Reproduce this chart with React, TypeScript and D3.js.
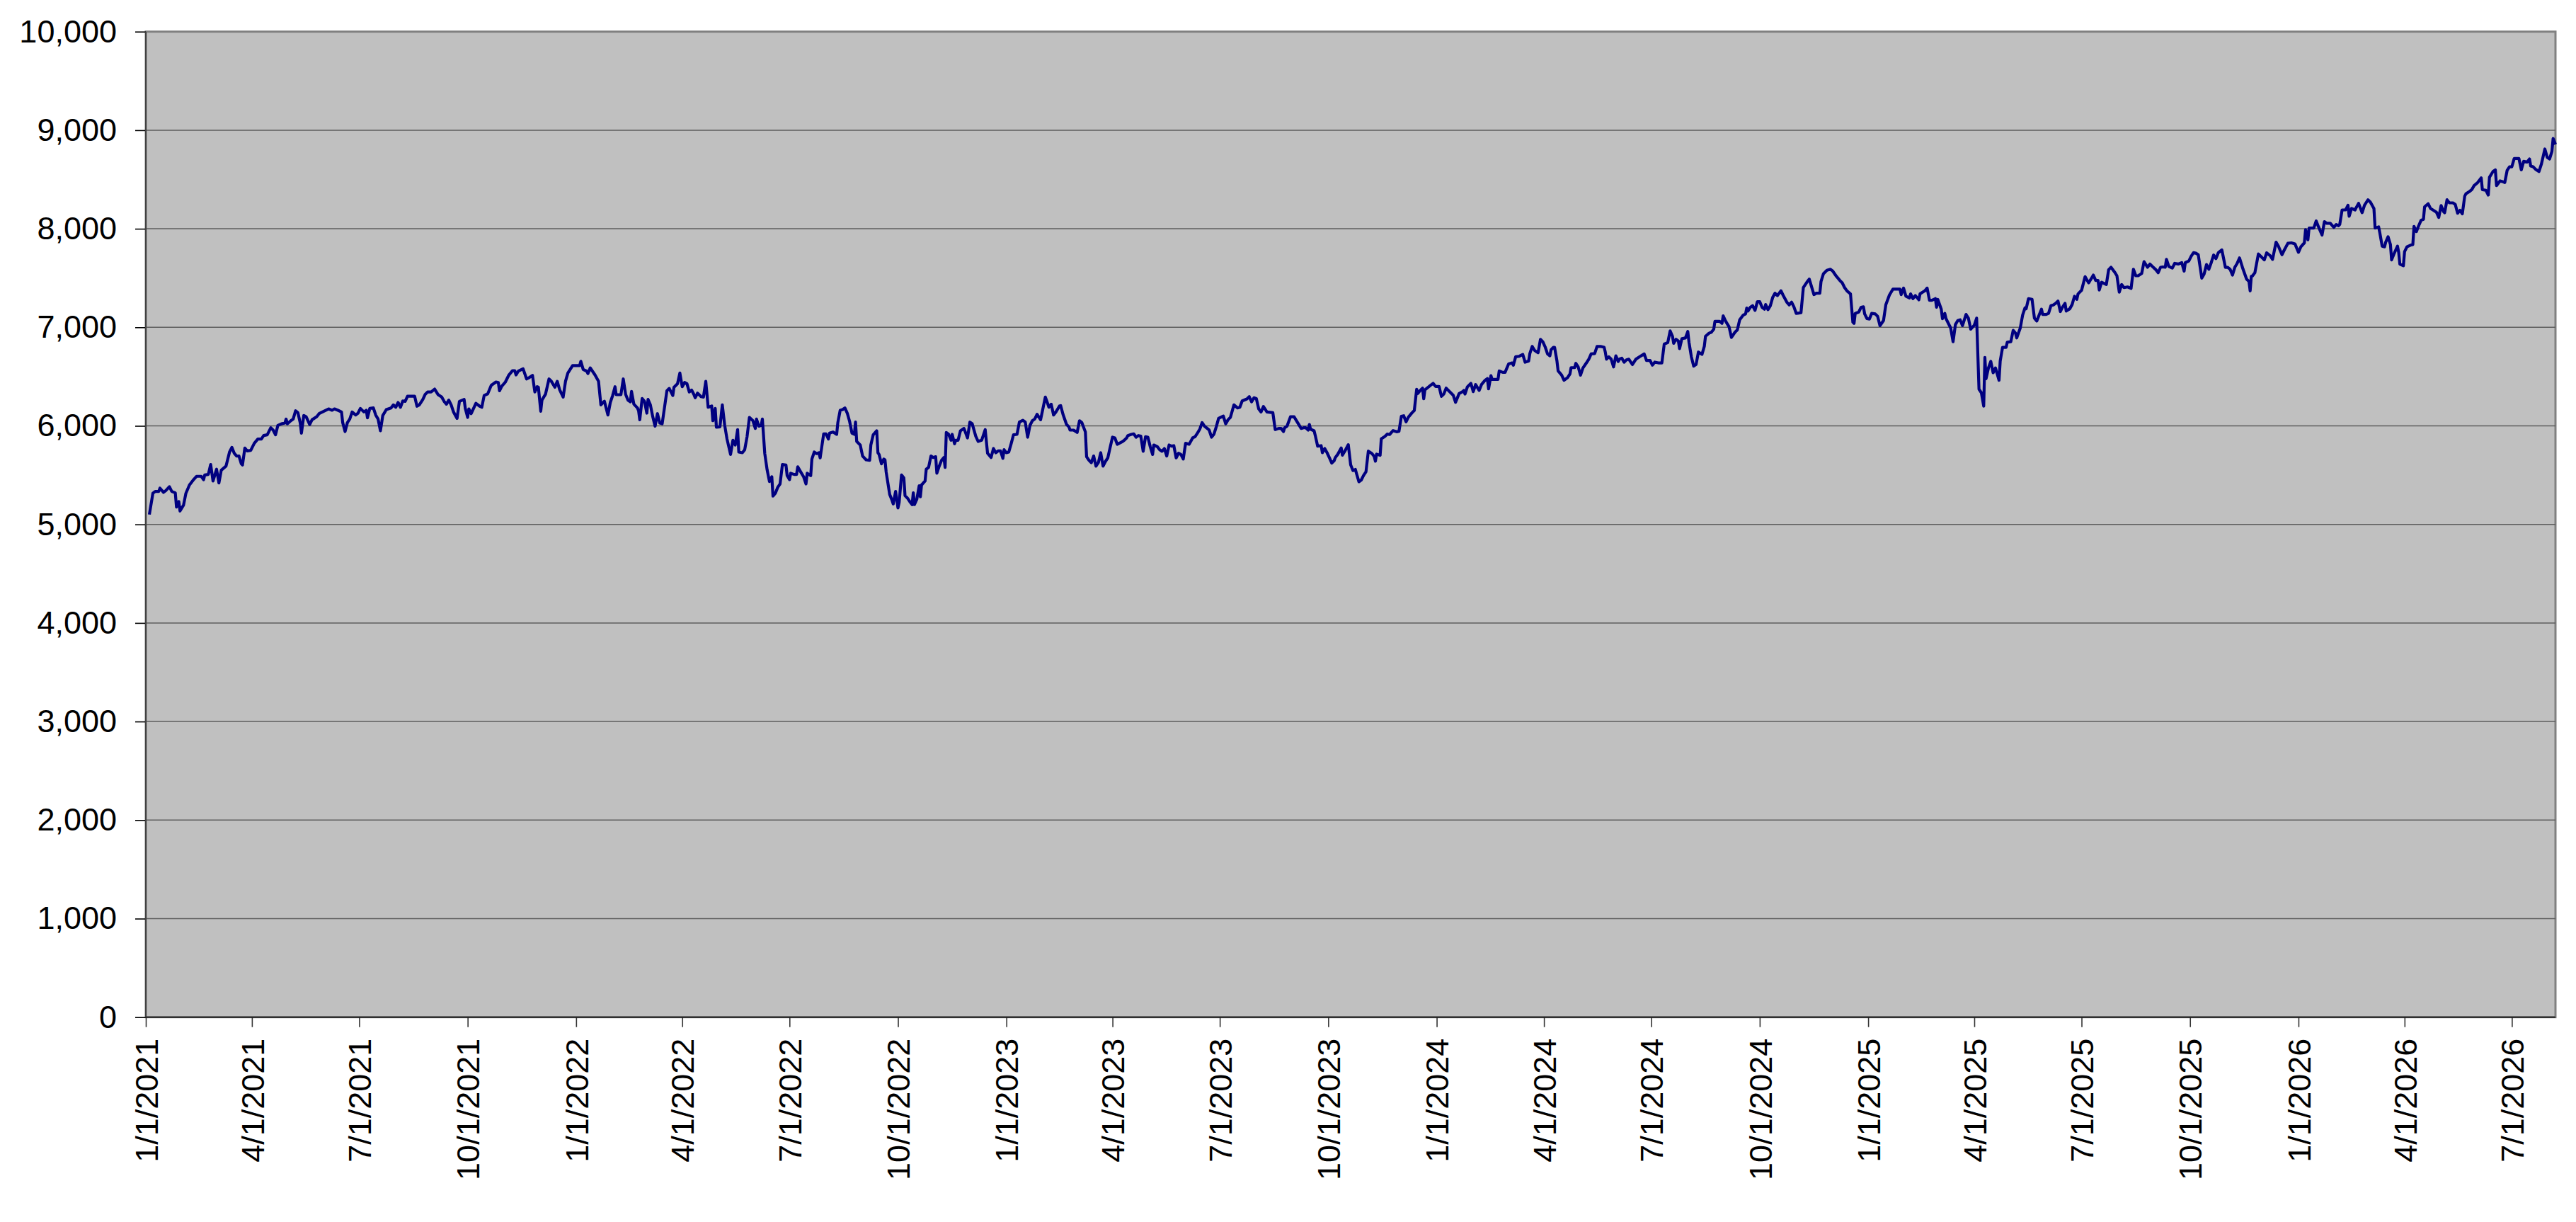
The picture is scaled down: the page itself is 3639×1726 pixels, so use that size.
import React, { useRef, useEffect } from "react";
import * as d3 from "d3";

// day offsets are counted from 1/1/2021, values are index levels
const startDate = new Date(2021, 0, 1);
const endDate = new Date(2026, 7, 7);

const from2021Jan: [number, number][] = [
  [3,5100],[6,5316],[8,5335],[11,5335],[12,5368],[15,5325],[17,5344],[20,5383],[22,5335],[25,5320],[26,5177],[28,5232],[29,5136],[32,5196],[34,5316],[37,5400],[40,5447],[43,5488],[47,5488],[49,5454],[50,5502],[53,5507],[55,5608],[57,5440],[60,5560],[62,5421],[64,5550],[68,5591],[71,5734],[73,5782],[75,5722],[77,5694],[79,5694],[81,5615],[82,5603],[84,5775],[86,5746],[89,5751],[92,5823],[95,5866],[98,5866],[100,5902],[103,5909],[106,5981],[108,5957],[110,5909],[112,6005],[115,6021],[118,6029],[119,6069],[120,6021],[123,6052],[125,6069],[127,6153],[129,6134],[131,6029],[132,5926],[134,6105],[136,6093],[139,6014],[141,6062],[145,6093],[147,6124],[151,6148],[155,6172],[158,6158],[160,6172],[163,6158],[166,6141],[167,6033],[169,5942],[171,6033],[173,6069],[175,6141],[178,6110],[180,6129],[182,6177],[185,6141],[187,6158],[188,6081],[190,6177],[193,6182],[195,6110],[197,6069],[199,5950],[201,6105],[204,6165],[208,6182],[210,6213],[212,6189],[214,6237],[216,6189],[218,6253],[220,6249],[222,6301],[228,6301],[230,6199],[232,6213],[235,6268],[237,6320],[239,6344],[242,6344],[245,6373],[248,6316],[251,6292],
];

const from2021Sep: [number, number][] = [
  [253,6249],[255,6220],[257,6261],[259,6213],[261,6141],[264,6076],[266,6249],[270,6268],[271,6177],[273,6086],[274,6172],[276,6124],[278,6177],[280,6229],[283,6201],[285,6189],[287,6308],[290,6325],[293,6411],[297,6445],[299,6440],[300,6356],[302,6404],[305,6445],[308,6517],[311,6560],[313,6560],[314,6517],[316,6555],[320,6579],[323,6476],[325,6488],[328,6512],[330,6344],[332,6397],[333,6392],[335,6148],[336,6261],[339,6320],[342,6476],[344,6452],[347,6392],[349,6452],[351,6368],[354,6292],[356,6452],[358,6536],[362,6612],[366,6612],[368,6612],[369,6655],[371,6572],[374,6555],[375,6531],[377,6588],[381,6517],[384,6452],[386,6213],[389,6249],[392,6110],[394,6237],[396,6308],[398,6397],[399,6316],[403,6316],[405,6476],[407,6320],[409,6261],[411,6244],[412,6349],[414,6220],[417,6182],[418,6153],[419,6062],[421,6277],[423,6249],[425,6129],[426,6268],[428,6213],[430,6093],[432,5997],[434,6124],[436,6029],[438,6021],[442,6356],[444,6380],[447,6308],[448,6392],[451,6428],[453,6536],[455,6397],[457,6440],[459,6428],[461,6344],[463,6363],[465,6316],[466,6285],[468,6332],[471,6296],[473,6292],[475,6452],[477,6189],[480,6201],[481,6052],[483,6177],[484,5986],[487,5990],[489,6213],[491,6009],[493,5866],[496,5710],[498,5854],[500,5806],[502,5962],[503,5734],[506,5727],
];

const from2022May: [number, number][] = [
  [508,5758],[510,5890],[512,6086],[515,6052],[517,5974],[518,6069],[520,5997],[522,6005],[523,6069],[525,5722],[527,5555],[529,5435],[531,5483],[532,5287],[534,5316],[536,5376],[538,5411],[540,5608],[543,5603],[544,5495],[546,5454],[547,5519],[550,5507],[552,5507],[553,5584],[555,5543],[558,5483],[560,5411],[561,5519],[564,5495],[565,5663],[567,5734],[569,5718],[571,5727],[572,5675],[575,5919],[577,5919],[579,5866],[580,5926],[583,5938],[586,5914],[587,6033],[589,6158],[591,6165],[593,6182],[595,6129],[597,6045],[599,5926],[601,5914],[602,6038],[603,5842],[606,5806],[608,5694],[611,5655],[614,5651],[615,5806],[617,5909],[620,5950],[621,5727],[622,5710],[624,5615],[626,5663],[627,5655],[628,5531],[631,5304],[633,5244],[634,5208],[636,5335],[638,5167],[639,5220],[641,5502],[643,5471],[644,5292],[646,5268],[648,5232],[650,5201],[651,5321],[652,5201],[654,5256],[656,5392],[657,5280],[658,5400],[661,5440],[662,5560],[664,5579],[666,5694],[668,5679],[670,5687],[671,5519],[673,5591],[675,5651],[677,5679],[678,5579],[679,5933],[681,5914],[683,5854],[684,5914],[686,5818],[687,5854],[689,5854],[691,5950],[694,5974],[697,5878],[699,6038],[701,6021],[704,5895],[706,5842],[709,5854],[712,5962],[714,5722],[717,5679],[719,5770],[721,5727],[723,5746],[725,5746],[727,5670],[728,5758],[730,5727],[732,5734],[734,5818],[736,5909],[739,5914],[741,6038],[744,6057],[746,6038],[748,5885],[750,6005],[752,6052],[754,6069],[756,6117],[759,6062],[763,6292],
];

const from2023Feb: [number, number][] = [
  [764,6261],[766,6189],[768,6220],[770,6110],[772,6141],[775,6201],[776,6206],[778,6117],[781,6014],[783,5990],[784,5957],[787,5957],[790,5933],[792,6052],[794,6033],[797,5938],[798,5687],[800,5651],[802,5627],[804,5694],[806,5591],[808,5627],[810,5727],[812,5591],[814,5639],[816,5675],[818,5782],[820,5885],[822,5878],[824,5813],[828,5837],[830,5854],[832,5878],[833,5902],[836,5914],[838,5919],[840,5885],[842,5902],[844,5895],[846,5742],[848,5890],[850,5885],[852,5789],[854,5710],[855,5806],[858,5789],[860,5758],[862,5742],[864,5770],[866,5694],[868,5806],[870,5794],[872,5799],[874,5675],[876,5722],[878,5710],[880,5663],[882,5823],[885,5813],[888,5878],[890,5890],[892,5926],[894,5966],[896,6033],[898,5997],[902,5957],[904,5885],[906,5914],[908,5990],[910,6076],[914,6100],[916,6021],[918,6062],[920,6086],[923,6213],[926,6182],[928,6189],[930,6253],[934,6273],[936,6296],[938,6244],[940,6285],[942,6277],[944,6172],[946,6141],[948,6196],[951,6141],[956,6134],[958,5962],[961,5974],[963,5974],[965,5942],[966,5981],[968,5997],[971,6093],[974,6093],[977,6033],[980,5974],[982,5981],[984,5981],[986,5957],[987,6014],[988,5966],[991,5950],[992,5902],[994,5794],[997,5799],[998,5727],[1000,5770],[1002,5727],[1004,5675],[1006,5622],[1008,5646],[1009,5679],[1011,5710],[1014,5775],[1015,5703],[1017,5742],
];

const from2023Oct: [number, number][] = [
  [1020,5809],[1022,5605],[1024,5546],[1026,5558],[1027,5515],[1029,5433],[1031,5450],[1033,5498],[1035,5534],[1037,5744],[1040,5720],[1042,5689],[1043,5641],[1044,5713],[1047,5701],[1048,5869],[1051,5892],[1053,5916],[1055,5912],[1058,5952],[1061,5940],[1063,5945],[1065,6096],[1067,6103],[1069,6041],[1071,6089],[1074,6132],[1076,6156],[1078,6371],[1079,6328],[1081,6359],[1083,6383],[1084,6275],[1085,6366],[1088,6395],[1090,6414],[1092,6431],[1094,6400],[1097,6400],[1099,6299],[1101,6323],[1103,6383],[1106,6347],[1109,6311],[1111,6239],[1114,6328],[1117,6347],[1118,6359],[1119,6323],[1121,6395],[1124,6431],[1126,6347],[1128,6419],[1131,6359],[1133,6419],[1136,6462],[1138,6479],[1139,6376],[1141,6510],[1142,6471],[1144,6471],[1147,6471],[1148,6557],[1151,6543],[1153,6543],[1156,6629],[1159,6639],[1160,6615],[1162,6701],[1165,6706],[1168,6725],[1170,6646],[1173,6658],[1174,6734],[1176,6806],[1178,6766],[1180,6749],[1181,6742],[1183,6878],[1185,6854],[1187,6801],[1189,6730],[1191,6711],[1192,6773],[1194,6797],[1195,6797],[1197,6658],[1198,6557],[1201,6514],[1203,6462],[1206,6490],[1208,6526],[1209,6591],[1212,6591],[1213,6634],[1215,6598],[1217,6514],[1219,6586],[1222,6639],[1224,6677],[1226,6730],[1229,6734],[1231,6806],[1234,6806],[1237,6797],[1238,6749],[1239,6677],[1241,6701],[1243,6677],[1245,6598],[1247,6711],[1249,6653],[1250,6677],[1252,6687],[1254,6646],[1256,6670],[1258,6677],[1259,6658],[1261,6622],[1264,6677],[1267,6701],[1271,6730],[1273,6663],[1275,6663],
];

const from2024Jun: [number, number][] = [
  [1276,6663],[1278,6616],[1280,6647],[1283,6639],[1286,6639],[1288,6830],[1291,6845],[1293,6964],[1295,6909],[1296,6837],[1298,6878],[1300,6861],[1301,6783],[1303,6885],[1306,6892],[1308,6957],[1309,6849],[1311,6701],[1313,6606],[1315,6623],[1317,6749],[1320,6725],[1322,6807],[1323,6909],[1326,6940],[1328,6950],[1330,6981],[1331,7060],[1335,7060],[1337,7040],[1338,7117],[1340,7064],[1343,7005],[1345,6897],[1348,6950],[1350,6974],[1352,7076],[1355,7124],[1357,7136],[1358,7196],[1359,7165],[1361,7203],[1363,7219],[1365,7172],[1367,7260],[1369,7260],[1371,7203],[1373,7184],[1374,7231],[1376,7179],[1378,7219],[1380,7303],[1382,7346],[1384,7322],[1387,7370],[1389,7322],[1392,7255],[1394,7227],[1396,7255],[1398,7208],[1400,7141],[1404,7148],[1406,7403],[1409,7458],[1411,7489],[1413,7410],[1415,7332],[1417,7346],[1420,7346],[1421,7465],[1423,7542],[1426,7578],[1429,7589],[1431,7570],[1434,7518],[1437,7475],[1439,7451],[1441,7403],[1443,7370],[1446,7339],[1448,7052],[1449,7040],[1450,7141],[1453,7155],[1455,7203],[1457,7208],[1458,7136],[1460,7088],[1462,7083],[1464,7141],[1467,7136],[1469,7112],[1471,7017],[1474,7069],[1476,7231],[1479,7327],[1482,7387],[1485,7387],[1488,7387],[1489,7332],[1491,7398],[1493,7315],[1496,7298],[1497,7339],[1499,7291],[1501,7322],[1504,7279],[1505,7339],[1509,7370],[1511,7398],[1513,7274],[1515,7274],[1518,7291],[1519,7203],[1520,7284],[1523,7184],[1524,7088],[1526,7141],[1527,7088],[1530,7017],
];

const from2025Mar: [number, number][] = [
  [1531,6993],[1533,6854],[1535,7028],[1537,7069],[1539,7076],[1541,7017],[1544,7131],[1546,7093],[1548,6981],[1551,7021],[1553,7093],[1555,6372],[1557,6336],[1559,6200],[1560,6694],[1561,6479],[1563,6587],[1565,6654],[1567,6539],[1569,6587],[1572,6463],[1573,6659],[1575,6797],[1578,6797],[1579,6849],[1582,6854],[1584,6969],[1586,6940],[1587,6892],[1590,6993],[1592,7124],[1594,7196],[1595,7188],[1597,7291],[1600,7284],[1602,7093],[1604,7064],[1606,7124],[1608,7184],[1609,7131],[1612,7131],[1614,7141],[1616,7219],[1618,7227],[1620,7243],[1622,7267],[1624,7160],[1626,7208],[1628,7243],[1629,7165],[1632,7188],[1634,7231],[1636,7315],[1638,7284],[1639,7339],[1642,7375],[1645,7513],[1648,7451],[1650,7489],[1652,7530],[1654,7475],[1656,7475],[1657,7379],[1659,7458],[1663,7434],[1665,7585],[1667,7609],[1670,7561],[1672,7523],[1674,7356],[1676,7434],[1678,7403],[1681,7410],[1684,7394],[1686,7589],[1688,7523],[1690,7523],[1693,7546],[1695,7666],[1698,7609],[1700,7642],[1702,7618],[1705,7585],[1707,7554],[1709,7609],[1711,7613],[1713,7609],[1714,7690],[1716,7618],[1719,7601],[1721,7649],[1724,7642],[1727,7656],[1729,7570],[1730,7656],[1733,7673],[1735,7721],[1737,7757],[1739,7752],[1741,7737],[1744,7499],[1746,7542],[1748,7637],[1750,7589],[1752,7656],[1754,7733],[1756,7697],[1758,7757],[1761,7785],[1764,7609],[1766,7609],[1768,7589],[1770,7530],[1772,7609],[1774,7649],[1776,7704],[1779,7589],[1782,7489],[1784,7465],[1785,7370],[1786,7518],
];

const from2025Nov: [number, number][] = [
  [1787,7522],[1789,7553],[1792,7744],[1794,7720],[1797,7684],[1799,7756],[1802,7727],[1804,7689],[1807,7864],[1809,7823],[1812,7737],[1814,7785],[1817,7852],[1820,7857],[1823,7847],[1826,7761],[1828,7816],[1831,7857],[1832,7991],[1834,7888],[1835,8007],[1839,8007],[1841,8079],[1843,8019],[1846,7936],[1848,8072],[1850,8055],[1853,8055],[1856,8014],[1858,8043],[1860,8031],[1861,8043],[1863,8191],[1866,8191],[1867,8215],[1868,8239],[1869,8127],[1871,8206],[1874,8191],[1875,8215],[1877,8258],[1880,8163],[1882,8239],[1885,8294],[1887,8270],[1890,8206],[1891,8007],[1894,8019],[1895,7959],[1897,7823],[1899,7816],[1900,7864],[1902,7919],[1904,7840],[1905,7684],[1907,7744],[1910,7823],[1911,7761],[1912,7641],[1915,7625],[1916,7768],[1918,7816],[1921,7833],[1923,7840],[1924,8024],[1926,7971],[1928,8031],[1930,8086],[1932,8096],[1933,8223],[1936,8254],[1938,8206],[1940,8191],[1943,8168],[1945,8115],[1947,8235],[1949,8175],[1950,8163],[1952,8294],[1954,8263],[1957,8263],[1959,8247],[1961,8158],[1963,8187],[1965,8151],[1967,8330],[1968,8354],[1971,8378],[1973,8397],[1975,8438],[1978,8469],[1981,8517],[1982,8397],[1985,8390],[1987,8342],[1988,8522],[1991,8581],[1993,8598],[1994,8438],[1997,8486],[1999,8479],[2001,8469],[2003,8593],[2005,8629],[2007,8629],[2009,8713],[2013,8713],[2015,8598],[2017,8684],[2020,8677],[2022,8708],[2023,8636],[2025,8629],[2027,8605],[2030,8581],[2032,8653],[2035,8809],[2037,8725],[2039,8708],[2041,8785],[2042,8916],[2044,8856],
];

const yTicks = [0, 1000, 2000, 3000, 4000, 5000, 6000, 7000, 8000, 9000, 10000];

const xTickLabels = [
  "1/1/2021", "4/1/2021", "7/1/2021", "10/1/2021",
  "1/1/2022", "4/1/2022", "7/1/2022", "10/1/2022",
  "1/1/2023", "4/1/2023", "7/1/2023", "10/1/2023",
  "1/1/2024", "4/1/2024", "7/1/2024", "10/1/2024",
  "1/1/2025", "4/1/2025", "7/1/2025", "10/1/2025",
  "1/1/2026", "4/1/2026", "7/1/2026",
];

const Chart: React.FC = () => {
  const svgRef = useRef<SVGSVGElement | null>(null);

  useEffect(() => {
    const svg = d3.select(svgRef.current);
    const width = 3639;
    const height = 1726;
    const plot = { left: 206, right: 3610, top: 44.7, bottom: 1436.7 };
    const font = "'Liberation Sans', Arial, Helvetica, sans-serif";

    svg.selectAll("*").remove();

    const points = [
      ...from2021Jan, ...from2021Sep, ...from2022May, ...from2023Feb,
      ...from2023Oct, ...from2024Jun, ...from2025Mar, ...from2025Nov,
    ].map(([d, v]) => ({ date: d3.timeDay.offset(startDate, d), value: v }));

    const x = d3.scaleTime().domain([startDate, endDate]).range([plot.left, plot.right]);
    const y = d3.scaleLinear().domain([0, 10000]).range([plot.bottom, plot.top]);

    svg.append("rect").attr("width", width).attr("height", height).attr("fill", "#ffffff");

    // plot area
    svg
      .append("rect")
      .attr("x", plot.left)
      .attr("y", plot.top)
      .attr("width", plot.right - plot.left)
      .attr("height", plot.bottom - plot.top)
      .attr("fill", "#c0c0c0")
      .attr("stroke", "#808080")
      .attr("stroke-width", 3);

    // gridlines
    svg
      .append("g")
      .selectAll("line")
      .data(yTicks.filter((t) => t > 0 && t < 10000))
      .join("line")
      .attr("x1", plot.left)
      .attr("x2", plot.right)
      .attr("y1", (d) => y(d))
      .attr("y2", (d) => y(d))
      .attr("stroke", "#5e5e5e")
      .attr("stroke-width", 1.5);

    // series
    const line = d3
      .line<{ date: Date; value: number }>()
      .x((d) => x(d.date))
      .y((d) => y(d.value));

    svg
      .append("path")
      .datum(points)
      .attr("d", line)
      .attr("fill", "none")
      .attr("stroke", "#000080")
      .attr("stroke-width", 4.2)
      .attr("stroke-linejoin", "round");

    // y axis
    const yAxis = svg
      .append("g")
      .attr("transform", `translate(${plot.left},0)`)
      .call(d3.axisLeft(y).tickValues(yTicks).tickSize(15).tickPadding(26).tickFormat(d3.format(",")));
    yAxis.select(".domain").remove();
    yAxis.selectAll(".tick line").attr("stroke", "#000").attr("stroke-width", 1.6);
    yAxis
      .selectAll("text")
      .attr("font-family", font)
      .attr("font-size", 45)
      .attr("fill", "#000");

    // x axis
    const parse = d3.timeParse("%m/%d/%Y");
    const tickDates = xTickLabels.map((s) => parse(s) as Date);
    const xAxis = svg
      .append("g")
      .attr("transform", `translate(0,${plot.bottom})`)
      .call(
        d3
          .axisBottom(x)
          .tickValues(tickDates)
          .tickSize(14)
          .tickFormat((_, i) => xTickLabels[i])
      );
    xAxis.select(".domain").remove();
    xAxis.selectAll(".tick line").attr("stroke", "#333").attr("stroke-width", 1.6);
    xAxis
      .selectAll("text")
      .attr("font-family", font)
      .attr("font-size", 45)
      .attr("fill", "#000")
      .attr("transform", "rotate(-90)")
      .attr("text-anchor", "end")
      .attr("x", -30)
      .attr("y", 0)
      .attr("dy", "0.36em");

    // axis lines
    svg
      .append("line")
      .attr("x1", plot.left)
      .attr("x2", plot.left)
      .attr("y1", plot.top)
      .attr("y2", plot.bottom)
      .attr("stroke", "#404040")
      .attr("stroke-width", 2);
    svg
      .append("line")
      .attr("x1", plot.left)
      .attr("x2", plot.right)
      .attr("y1", plot.bottom)
      .attr("y2", plot.bottom)
      .attr("stroke", "#202020")
      .attr("stroke-width", 2);
  }, []);

  return (
    <svg
      ref={svgRef}
      width="3639"
      height="1726"
      style={{ position: "absolute", left: 0, top: 0, display: "block" }}
    />
  );
};

export default function App() {
  return <Chart />;
}
